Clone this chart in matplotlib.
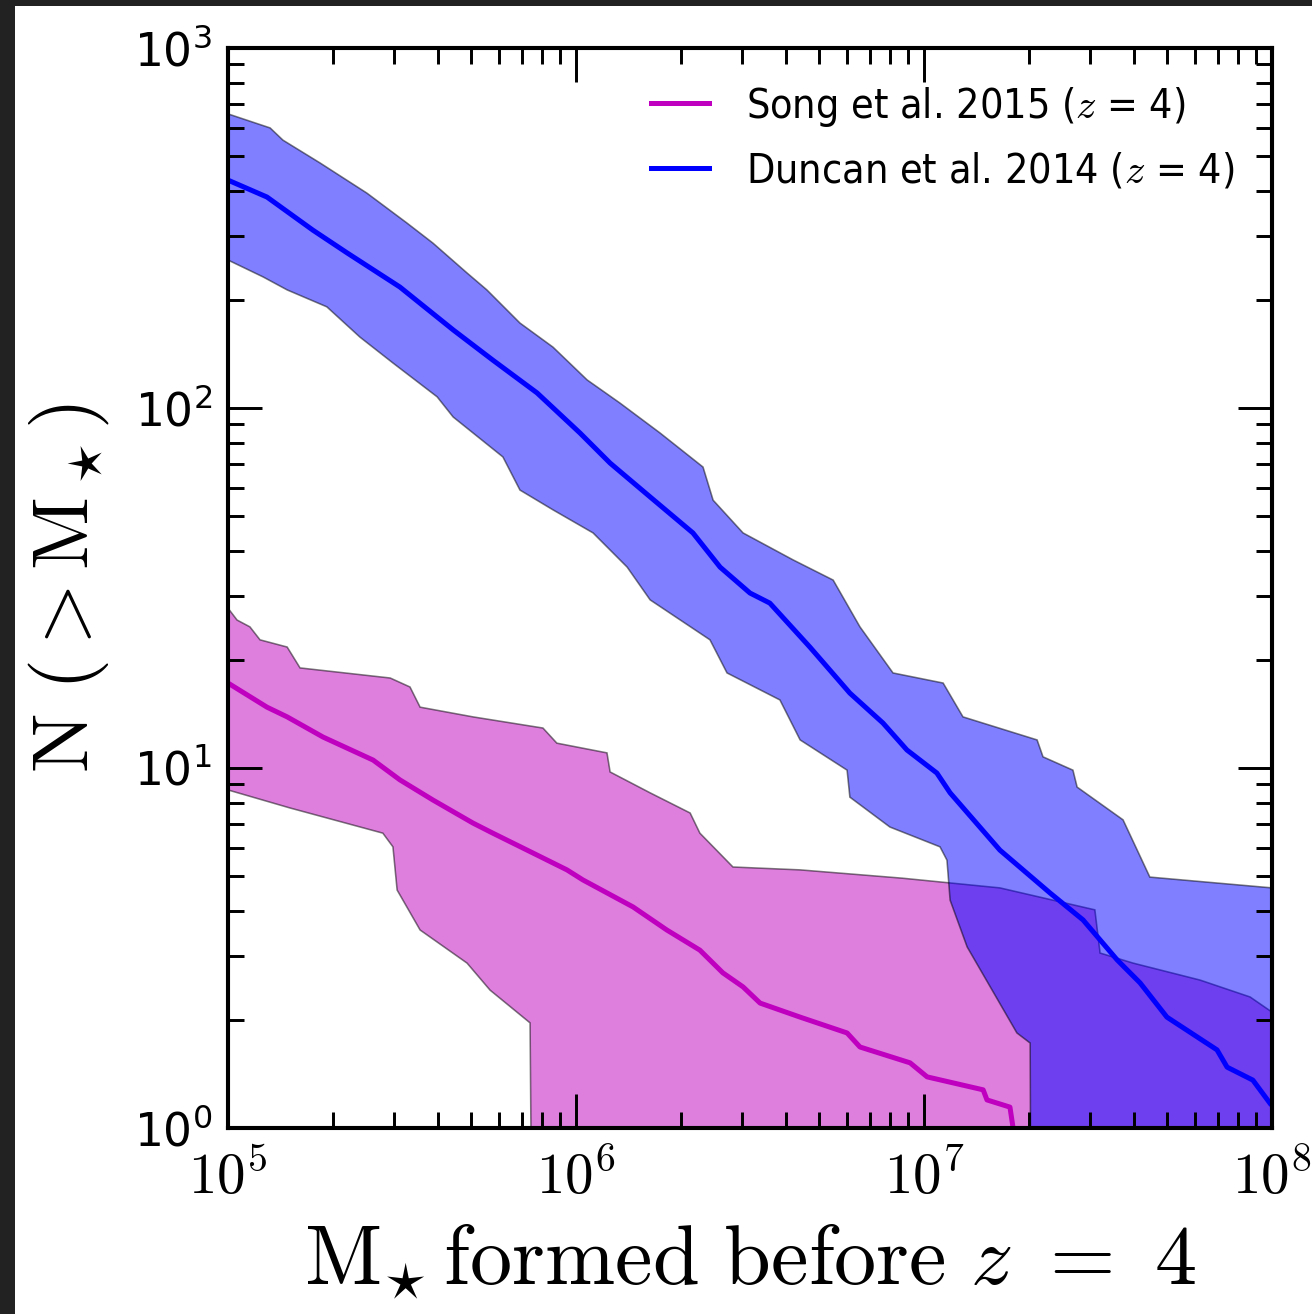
import numpy as np
import matplotlib.pyplot as plt
from matplotlib.patches import Rectangle
from matplotlib.ticker import LogLocator, FuncFormatter, NullFormatter

# cumulative number of progenitors above a given stellar mass (log10 M, log10 N)
duncan_med_logm = [5.000, 5.112, 5.244, 5.342, 5.494, 5.647, 5.761, 5.888, 6.011, 6.098,
                   6.213, 6.336, 6.414, 6.500, 6.557, 6.672, 6.787, 6.882, 6.951, 7.037,
                   7.075, 7.218, 7.362, 7.457, 7.555, 7.621, 7.698, 7.842, 7.871, 7.945, 7.994]
duncan_med_logn = [2.633, 2.586, 2.494, 2.431, 2.336, 2.217, 2.133, 2.042, 1.931, 1.847,
                   1.753, 1.653, 1.558, 1.486, 1.458, 1.336, 1.208, 1.125, 1.050, 0.986,
                   0.931, 0.772, 0.653, 0.578, 0.467, 0.403, 0.308, 0.217, 0.169, 0.133, 0.069]

duncan_hi_logm = [5.000, 5.121, 5.158, 5.264, 5.399, 5.514, 5.589, 5.687, 5.744, 5.839,
                  5.934, 6.032, 6.126, 6.241, 6.365, 6.394, 6.480, 6.624, 6.739, 6.816,
                  6.911, 7.055, 7.112, 7.325, 7.342, 7.428, 7.440, 7.572, 7.649, 8.000]
duncan_hi_logn = [2.817, 2.778, 2.744, 2.681, 2.597, 2.514, 2.458, 2.375, 2.328, 2.236,
                  2.169, 2.078, 2.014, 1.931, 1.836, 1.744, 1.653, 1.578, 1.522, 1.392,
                  1.264, 1.236, 1.142, 1.078, 1.031, 0.994, 0.947, 0.856, 0.697, 0.667]

duncan_lo_logm = [5.000, 5.101, 5.170, 5.284, 5.379, 5.474, 5.601, 5.647, 5.790, 5.839,
                  5.934, 6.049, 6.147, 6.213, 6.385, 6.434, 6.586, 6.644, 6.779, 6.787,
                  6.902, 7.046, 7.066, 7.075, 7.124, 7.267, 7.305]
duncan_lo_logn = [2.411, 2.364, 2.328, 2.281, 2.197, 2.125, 2.031, 1.975, 1.864, 1.772,
                  1.717, 1.653, 1.558, 1.467, 1.356, 1.264, 1.189, 1.078, 0.994, 0.919,
                  0.836, 0.781, 0.744, 0.633, 0.503, 0.264, 0.236]
duncan_lo_zero = 7.310   # lower bound reaches N = 0 here

song_med_logm = [5.000, 5.112, 5.170, 5.273, 5.417, 5.494, 5.589, 5.704, 5.761, 5.876,
                 5.974, 6.020, 6.164, 6.261, 6.356, 6.422, 6.480, 6.529, 6.644, 6.779,
                 6.816, 6.960, 7.009, 7.170, 7.181, 7.247, 7.256]
song_med_logn = [1.236, 1.169, 1.142, 1.086, 1.022, 0.967, 0.911, 0.847, 0.819, 0.764,
                 0.717, 0.689, 0.614, 0.550, 0.494, 0.431, 0.392, 0.347, 0.308, 0.264,
                 0.225, 0.181, 0.142, 0.106, 0.078, 0.058, 0.000]

song_hi_logm = [5.000, 5.026, 5.063, 5.092, 5.170, 5.207, 5.466, 5.523, 5.552, 5.704,
                5.905, 5.945, 6.089, 6.098, 6.213, 6.328, 6.356, 6.451, 6.644, 6.937,
                7.218, 7.491, 7.506, 7.601, 7.793, 7.937, 8.000]
song_hi_logn = [1.444, 1.411, 1.392, 1.356, 1.336, 1.278, 1.250, 1.225, 1.169, 1.142,
                1.111, 1.069, 1.042, 0.989, 0.931, 0.875, 0.819, 0.725, 0.717, 0.694,
                0.667, 0.606, 0.486, 0.458, 0.411, 0.364, 0.322]

song_lo_logm = [5.000, 5.178, 5.445, 5.474, 5.486, 5.552, 5.687, 5.753, 5.868]
song_lo_logn = [0.939, 0.889, 0.819, 0.781, 0.661, 0.550, 0.458, 0.383, 0.292]
song_lo_zero = 5.879

labels = ['Song et al. 2015 ($z$ = 4)', 'Duncan et al. 2014 ($z$ = 4)']

FLOOR = 0.1  # stand-in for N = 0 on the log axis


def band(ax, hi_m, hi_n, lo_m, lo_n, m_zero, color):
    xs = np.concatenate([10.0 ** np.array(hi_m), [1e8, 10.0 ** m_zero],
                         10.0 ** np.array(lo_m)[::-1]])
    ys = np.concatenate([10.0 ** np.array(hi_n), [FLOOR, FLOOR],
                         10.0 ** np.array(lo_n)[::-1]])
    ax.fill(xs, ys, facecolor=color, edgecolor='k', lw=0.7, alpha=0.5)


fig = plt.figure(figsize=(1312 / 164, 1314 / 164), dpi=164)
fig.patch.set_facecolor('#222222')
fig.patches.append(Rectangle((15 / 1312, 0), 1, 1 - 6 / 1314, transform=fig.transFigure,
                             facecolor='white', edgecolor='none', zorder=-10))

ax = fig.add_axes([228 / 1312, 1 - 1128 / 1314, 1044 / 1312, 1080 / 1314])

band(ax, song_hi_logm, song_hi_logn, song_lo_logm, song_lo_logn, song_lo_zero, 'm')
band(ax, duncan_hi_logm, duncan_hi_logn, duncan_lo_logm, duncan_lo_logn, duncan_lo_zero, 'b')

ax.plot(10.0 ** np.array(song_med_logm), 10.0 ** np.array(song_med_logn),
        color='m', lw=2.2, label=labels[0])
ax.plot(10.0 ** np.array(duncan_med_logm), 10.0 ** np.array(duncan_med_logn),
        color='b', lw=2.2, label=labels[1])

ax.set_xscale('log')
ax.set_yscale('log')
ax.set_xlim(1e5, 1e8)
ax.set_ylim(1, 1e3)

for a in (ax.xaxis, ax.yaxis):
    a.set_major_locator(LogLocator(base=10))
    a.set_minor_locator(LogLocator(base=10, subs=np.arange(2, 10)))
    a.set_minor_formatter(NullFormatter())
    a.set_major_formatter(FuncFormatter(lambda v, p: r'$10^{%d}$' % round(np.log10(v))))

ax.tick_params(which='both', direction='in', top=True, right=True, width=1.3, pad=7)
ax.tick_params(axis='x', pad=10)
ax.tick_params(which='major', length=15)
ax.tick_params(which='minor', length=7)
for s in ax.spines.values():
    s.set_linewidth(1.8)

for t in ax.get_yticklabels():
    t.set_fontsize(20)
    t.set_math_fontfamily('dejavusans')
for t in ax.get_xticklabels():
    t.set_fontsize(25)
    t.set_math_fontfamily('cm')

ax.set_xlabel(r'$\mathrm{M}_{\star}\,\mathrm{formed\ before}\ z\ =\ 4$', fontsize=37,
              math_fontfamily='cm')
ax.set_ylabel(r'$\mathrm{N\ (>M_\star)}$', fontsize=35, math_fontfamily='cm')
ax.xaxis.set_label_coords(0.5, -0.085)
ax.yaxis.set_label_coords(-0.112, 0.5)

leg = ax.legend(loc='upper right', bbox_to_anchor=(0.9635, 0.966), frameon=False,
                fontsize=18, handlelength=1.4, handletextpad=0.9, labelspacing=0.55,
                borderpad=0, borderaxespad=0)
for t in leg.get_texts():
    t.set_math_fontfamily('cm')
    t.set_fontstretch('condensed')

fig.savefig('out.png', dpi=164, facecolor=fig.get_facecolor())
